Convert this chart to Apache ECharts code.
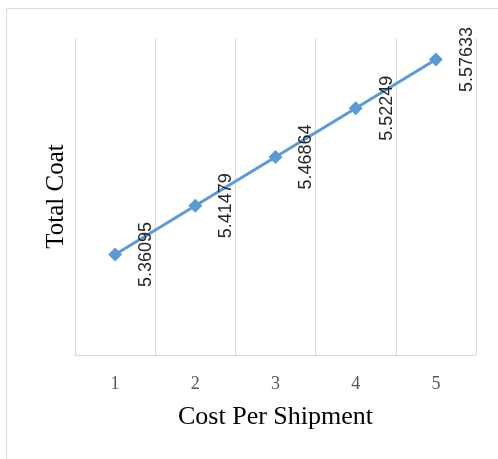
<!DOCTYPE html>
<html>
<head>
<meta charset="utf-8">
<script src="https://cdn.jsdelivr.net/npm/echarts@6/dist/echarts.min.js"></script>
<style>
  html, body { margin: 0; padding: 0; background: #ffffff; }
  #chart { width: 498px; height: 459px; }
</style>
</head>
<body>
<div id="chart"></div>
<script>
// Shipment cost levels and resulting total cost
const categories = ['1', '2', '3', '4', '5'];
const totalCost = [5.36095, 5.41479, 5.46864, 5.52249, 5.57633];
const yRange = [5.25, 5.6];

const chart = echarts.init(document.getElementById('chart'), null, { renderer: 'canvas' });

chart.setOption({
  animation: false,
  backgroundColor: '#ffffff',
  graphic: [{
    type: 'rect',
    shape: { x: 6.5, y: 8.5, width: 600, height: 600 },
    style: { fill: 'none', stroke: '#d9d9d9', lineWidth: 1 },
    silent: true
  }],
  grid: { left: 75, right: 22, top: 38, bottom: 104 },
  xAxis: {
    type: 'category',
    data: categories,
    boundaryGap: true,
    name: 'Cost Per Shipment',
    nameLocation: 'middle',
    nameGap: 49,
    nameTextStyle: { fontFamily: 'Liberation Serif', fontSize: 26, color: '#000000' },
    axisLine: { show: true, lineStyle: { color: '#d9d9d9', width: 1 } },
    axisTick: { show: false },
    axisLabel: { fontFamily: 'Liberation Serif', fontSize: 18, color: '#595959', margin: 20 },
    splitLine: { show: true, lineStyle: { color: '#d9d9d9', width: 1 } }
  },
  yAxis: {
    type: 'value',
    min: yRange[0],
    max: yRange[1],
    name: 'Total Coat',
    nameLocation: 'middle',
    nameGap: 6,
    nameTextStyle: { fontFamily: 'Liberation Serif', fontSize: 25, color: '#000000' },
    axisLine: { show: false },
    axisTick: { show: false },
    axisLabel: { show: false },
    splitLine: { show: false }
  },
  series: [{
    type: 'line',
    data: totalCost,
    symbol: 'diamond',
    symbolSize: 14,
    lineStyle: { color: '#5b9bd5', width: 3 },
    itemStyle: { color: '#5b9bd5' },
    label: {
      show: true,
      position: 'right',
      distance: 24,
      rotate: 90,
      align: 'center',
      verticalAlign: 'middle',
      fontFamily: 'Liberation Sans',
      fontSize: 18,
      color: '#262626',
      formatter: p => String(p.value)
    }
  }]
});
</script>
</body>
</html>
